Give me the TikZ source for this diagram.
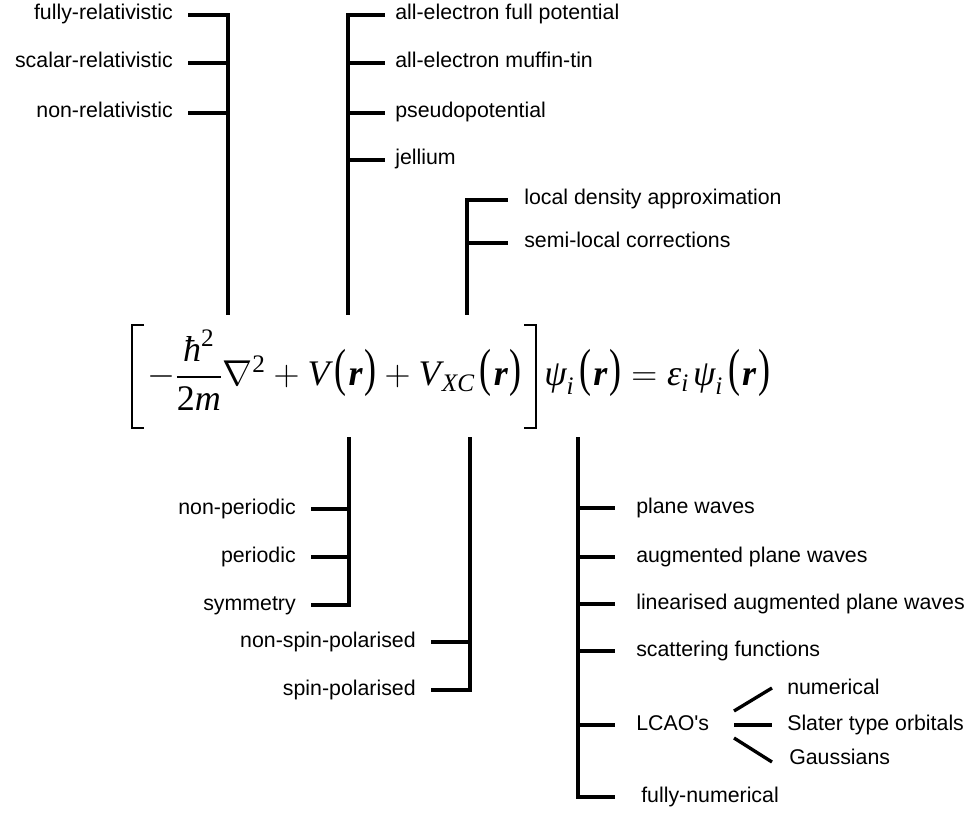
\RequirePackage{fix-cm}
\documentclass[tikz,border=0pt]{standalone}
\usepackage{amsmath}
\usepackage{graphicx}
\usepackage{fontspec}
\newfontfamily\labf[Ligatures=TeXOff]{Liberation Sans}
\newfontfamily\eqf{Liberation Serif}
\newcommand\mi[1]{\text{\eqf\itshape #1}}
\newcommand\bi[1]{\text{\eqf\bfseries\itshape #1}}
\newcommand\up[1]{\text{\eqf #1}}
\newcommand\lpar{\mathopen{\text{\eqf\scalebox{1}[1.45]{(}}}}
\newcommand\rpar{\mathclose{\text{\eqf\scalebox{1}[1.45]{)}}}}
\newcommand\argr{\mkern2.5mu\lpar\mkern1mu\bi{r}\mkern1mu\rpar}
\begin{document}
\begin{tikzpicture}[x=0.75pt,y=-0.75pt,
  br/.style={line width=2.5pt},
  bk/.style={line width=1.2pt},
  lab/.style={font=\labf\fontsize{16}{19}\selectfont, inner sep=0pt, text height=11pt, text depth=3.5pt},
  labl/.style={lab, anchor=east},
  labr/.style={lab, anchor=west},
  eq/.style={font=\fontsize{27}{32}\selectfont, inner sep=0pt, anchor=base west}]
\useasboundingbox (0,0) rectangle (976,813);

% ---------- equation ----------
\node[eq] (ham) at (147,386) {$-\dfrac{\mi{ħ}^{\up{2}}}{\up{2}\mi{m}}\nabla^{\up{2}}+\mi{V}\argr+\mi{V}_{\mkern1mu\mi{XC}}\argr$};
\node[eq] (rhs) at (544,386) {$\mi{ψ}_{\mi{i}}\argr=\mi{ε}_{\mi{i}}\mkern2mu\mi{ψ}_{\mi{i}}\argr$};
\draw[bk] (144,325) -- (132,325) -- (132,428) -- (144,428);
\draw[bk] (524,325) -- (536,325) -- (536,428) -- (524,428);

% ---------- tree A: relativistic ----------
\coordinate (Atop) at (228,15);
\coordinate (Abot) at (228,315);
\node[labl] (fr) at (173,15) {fully-relativistic};
\node[labl] (sr) at (173,63) {scalar-relativistic};
\node[labl] (nr) at (173,113) {non-relativistic};
\draw[br, shorten <=11.25pt] (fr.east) -- (Atop) -- (Abot);
\foreach \n in {sr,nr} \draw[br, shorten <=11.25pt] (\n.east) -- (\n.east -| Atop);

% ---------- tree B: potential ----------
\coordinate (Btop) at (348,15);
\coordinate (Bbot) at (348,315);
\node[labr] (b1) at (395,15) {all-electron full potential};
\node[labr] (b2) at (395,63) {all-electron muffin-tin};
\node[labr] (b3) at (395,113) {pseudopotential};
\node[labr] (b4) at (395,160) {jellium};
\draw[br, shorten >=7.5pt] (Bbot) -- (Btop) -- (b1.west);
\foreach \n in {b2,b3,b4} \draw[br, shorten >=7.5pt] (\n.west -| Btop) -- (\n.west);

% ---------- tree C: exchange-correlation ----------
\coordinate (Ctop) at (467,200);
\coordinate (Cbot) at (467,315);
\node[labr] (c1) at (524,200) {local density approximation};
\node[labr] (c2) at (524,243) {semi-local corrections};
\draw[br, shorten >=12pt] (Cbot) -- (Ctop) -- (c1.west);
\draw[br, shorten >=12pt] (c2.west -| Ctop) -- (c2.west);

% ---------- tree D: boundary conditions ----------
\coordinate (Dtop) at (349,437);
\coordinate (Dbot) at (349,605);
\node[labl] (d1) at (296,509) {non-periodic};
\node[labl] (d2) at (296,557) {periodic};
\node[labl] (d3) at (296,605) {symmetry};
\draw[br, shorten >=11.25pt] (Dtop) -- (Dbot) -- (d3.east);
\foreach \n in {d1,d2} \draw[br, shorten <=11.25pt] (\n.east) -- (\n.east -| Dtop);

% ---------- tree E: spin ----------
\coordinate (Etop) at (470,437);
\coordinate (Ebot) at (470,690);
\node[labl] (e1) at (416,642) {non-spin-polarised};
\node[labl] (e2) at (416,690) {spin-polarised};
\draw[br, shorten >=11.25pt] (Etop) -- (Ebot) -- (e2.east);
\draw[br, shorten <=11.25pt] (e1.east) -- (e1.east -| Etop);

% ---------- tree F: basis ----------
\coordinate (Ftop) at (578,437);
\coordinate (Fbot) at (578,797);
\node[labr] (f1) at (636,508) {plane waves};
\node[labr] (f2) at (636,557) {augmented plane waves};
\node[labr] (f3) at (636,604) {linearised augmented plane waves};
\node[labr] (f4) at (636,651) {scattering functions};
\node[labr] (f5) at (636,725) {LCAO's};
\node[labr] (f6) at (641,797) {fully-numerical};
\draw[br, shorten >=19.5pt] (Ftop) -- (Fbot) -- (f6.west);
\foreach \n in {f1,f2,f3,f4,f5} \draw[br, shorten >=15.75pt] (\n.west -| Ftop) -- (\n.west);

% ---------- LCAO sub-branches ----------
\node[labr] (g1) at (787,689) {numerical};
\node[labr] (g2) at (787,725) {Slater type orbitals};
\node[labr] (g3) at (789,759) {Gaussians};
\coordinate (La) at (734,711);
\coordinate (Lb) at (734,725);
\coordinate (Lc) at (734,738);
\coordinate (Na) at (772,688);
\coordinate (Nc) at (772,762);
\draw[br] (La) -- (Na);
\draw[br, shorten >=11.25pt] (Lb) -- (g2.west);
\draw[br] (Lc) -- (Nc);
\end{tikzpicture}
\end{document}
